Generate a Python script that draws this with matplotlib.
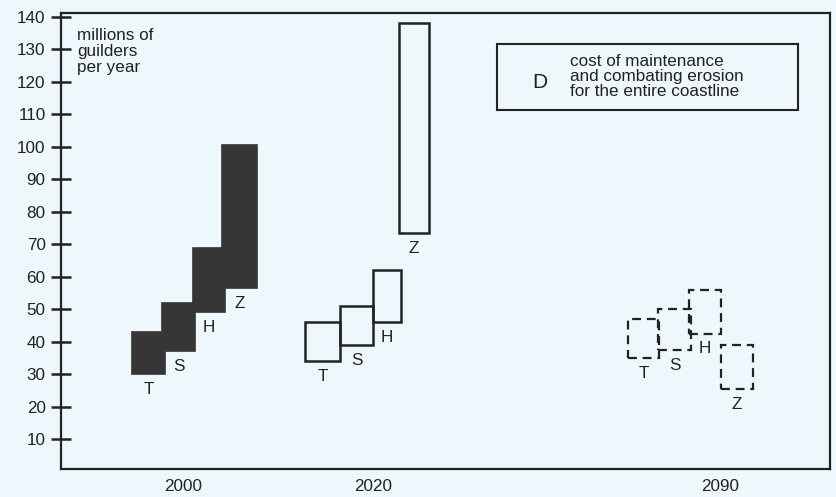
import matplotlib
matplotlib.use("Agg")
from matplotlib import pyplot as plt
from matplotlib.patches import Rectangle

# regions T, S, H, Z
regions = ["T", "S", "H", "Z"]

# cost ranges (millions of guilders per year)
low_2000 = [30, 37, 49, 56.5]
high_2000 = [43, 52, 69, 100.5]
low_2020 = [34, 39, 46, 73.5]
high_2020 = [46, 51, 62, 138]
low_2090 = [35, 37.5, 42.5, 25.5]
high_2090 = [47, 50, 56, 39]

years = ["2000", "2020", "2090"]
y_ticks = list(range(10, 150, 10))

# layout (x in axis units)
left_2000 = [132, 162, 193, 222]
width_2000 = [33, 33, 32, 35]
left_2020 = [305, 340, 373, 399]
width_2020 = [35, 33, 28, 30]
left_2090 = [628, 658, 689, 721]
width_2090 = [31, 33, 32, 32]
year_x = [183, 373, 720]

BG = "#eef7fb"
INK = "#222222"
FILL = "#363636"
FS = 12.3

plt.rcParams['font.family'] = ['Liberation Sans', 'DejaVu Sans']

fig = plt.figure(figsize=(8.37, 4.97), dpi=100, facecolor=BG)
ax = fig.add_axes([0.0729, 0.0563, 0.9187, 0.9175], facecolor=BG)
ax.set_xlim(61, 830)
ax.set_ylim(0.8, 141.2)

groups = [
    (low_2000, high_2000, left_2000, width_2000, dict(facecolor=FILL, edgecolor=FILL, linewidth=1.2)),
    (low_2020, high_2020, left_2020, width_2020, dict(facecolor="none", edgecolor=INK, linewidth=1.8)),
    (low_2090, high_2090, left_2090, width_2090, dict(facecolor="none", edgecolor=INK, linewidth=1.6,
                                                     linestyle=(0, (4, 2.6)))),
]
for lows, highs, lefts, widths, style in groups:
    for lab, lo, hi, x0, w in zip(regions, lows, highs, lefts, widths):
        ax.add_patch(Rectangle((x0, lo), w, hi - lo, **style))
        ax.annotate(lab, (x0 + w / 2, lo), xytext=(0, -11), textcoords='offset points',
                    ha='center', va='center', fontsize=FS, color=INK)

for s in ax.spines.values():
    s.set_linewidth(1.6)
    s.set_color(INK)

ax.set_yticks(y_ticks)
ax.set_yticklabels([str(v) for v in y_ticks], fontsize=FS, color=INK)
ax.tick_params(axis='y', direction='inout', length=14, width=1.8, color=INK, pad=4)
ax.set_xticks(year_x)
ax.set_xticklabels(years, fontsize=FS, color=INK)
ax.tick_params(axis='x', length=0, pad=7)

ax.text(77, 129.3, "millions of\nguilders\nper year", fontsize=FS, color=INK,
        ha='left', va='center', linespacing=1.1)

# legend box
ax.add_patch(Rectangle((497, 111.3), 301, 20.4, facecolor="none", edgecolor=INK, linewidth=1.5))
ax.text(540, 119.8, "D", fontsize=15, color=INK, ha='center', va='center')
ax.text(570, 121.6, "cost of maintenance\nand combating erosion\nfor the entire coastline",
        fontsize=FS, color=INK, ha='left', va='center', linespacing=1.0)

fig.savefig("out.png", dpi=100, facecolor=BG)
